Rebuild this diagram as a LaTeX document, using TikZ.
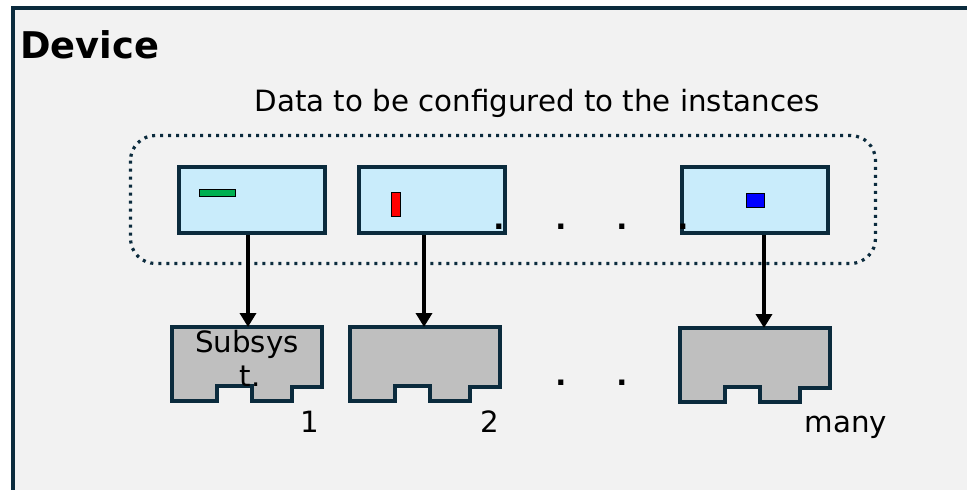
\documentclass[tikz,border=0pt]{standalone}
\usepackage{fontspec}
\setmainfont{DejaVu Sans}
\usetikzlibrary{arrows.meta}
\definecolor{navy}{HTML}{0B2B3D}
\definecolor{bgc}{HTML}{F2F2F2}
\definecolor{lblue}{HTML}{C9ECFB}
\definecolor{sgray}{HTML}{BFBFBF}
\definecolor{mgreen}{HTML}{00B050}
\tikzset{
  txt/.style={inner sep=0, font=\fontsize{29.3}{34}\selectfont},
  dbox/.style={draw=navy, line width=4pt, fill=lblue, minimum width=146pt, minimum height=66pt, inner sep=0},
  sub/.style={draw=navy, line width=3.5pt, fill=sgray, line join=miter},
  subarea/.style={inner sep=0, minimum width=150pt, minimum height=74pt, anchor=north west},
  marker/.style={draw=black, line width=1pt},
  arr/.style={line width=3.5pt, -{Triangle[width=16pt,length=14pt]}},
  dotsym/.style={inner sep=0, anchor=base, font=\fontsize{29}{34}\selectfont\bfseries},
}
\newcommand\subsyspath[1]{\path[sub] (#1.north west) -- ++(150,0) -- ++(0,60) -- ++(-30,0) -- ++(0,14) -- ++(-40,0) -- ++(0,-15) -- ++(-35,0) -- ++(0,15) -- ++(-45,0) -- cycle;}
\begin{document}
\begin{tikzpicture}[x=1pt,y=-1pt]
\useasboundingbox (0,0) rectangle (967,490);
\fill[white] (0,0) rectangle (967,490);
\begin{scope}
\clip (0,0) rectangle (967,490);
\draw[navy, line width=4pt, fill=bgc] (13,8) rectangle (980,505);
\end{scope}
\node[inner sep=0, anchor=base west, font=\fontsize{36.8}{40}\selectfont\bfseries] (title) at (20,58) {Device};
\node[txt, anchor=base] (data) at (537,111) {Data to be configured to the instances};
\draw[navy, line width=3.2pt, dash pattern=on 3pt off 5pt, rounded corners=25pt] (130.5,135.5) rectangle (875.5,263.5);
% data boxes
\node[dbox] (b1) at (252,200) {};
\node[dbox] (b2) at (432,200) {};
\node[dbox] (b3) at (755,200) {};
\draw[marker, fill=mgreen] (199,189) rectangle (235,196);
\draw[marker, fill=red] (391,192) rectangle (400,216);
\draw[marker, fill=blue] (746,193) rectangle (764,207);
% dots
\node[dotsym] (d1) at (499,229) {.};
\node[dotsym] (d2) at (561,229) {.};
\node[dotsym] (d3) at (622,229) {.};
\node[dotsym] (d4) at (683,229) {.};
\node[dotsym] (d5) at (561,385) {.};
\node[dotsym] (d6) at (622,385) {.};
% subsystems
\node[subarea] (s1) at (172,327) {};
\node[subarea] (s2) at (350,327) {};
\node[subarea] (s3) at (680,328) {};
\subsyspath{s1}
\subsyspath{s2}
\subsyspath{s3}
\node[txt, anchor=base] (st1) at (247,352) {Subsys};
\node[txt, anchor=base] (st2) at (250,386) {t.};
% arrows
\coordinate (x1) at (248,0);
\coordinate (x2) at (424,0);
\coordinate (x3) at (764,0);
\draw[arr] (b1.south -| x1) -- (s1.north -| x1);
\draw[arr] (b2.south -| x2) -- (s2.north -| x2);
\draw[arr] (b3.south -| x3) -- (s3.north -| x3);
% labels
\node[txt, anchor=base] (n1) at (310,432) {1};
\node[txt, anchor=base] (n2) at (490,432) {2};
\node[txt, anchor=base] (n3) at (846,432) {many};
\end{tikzpicture}
\end{document}
